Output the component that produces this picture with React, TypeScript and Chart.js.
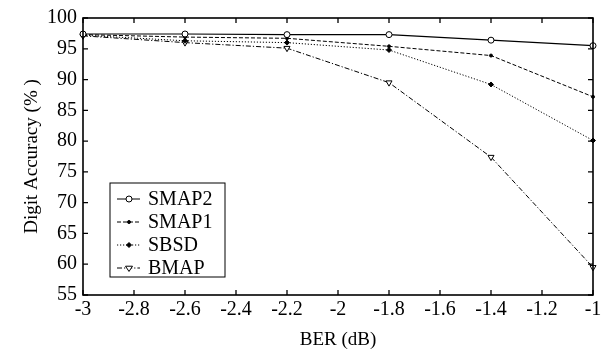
import React, { useEffect, useRef } from "react";
import { Chart, registerables } from "chart.js";

Chart.register(...registerables);

const berValues = [-3, -2.6, -2.2, -1.8, -1.4, -1];
const smap2 = [97.4, 97.4, 97.3, 97.3, 96.4, 95.5];
const smap1 = [97.3, 96.9, 96.7, 95.4, 93.9, 87.2];
const sbsd = [97.2, 96.3, 96.0, 94.8, 89.2, 80.1];
const bmap = [97.1, 96.0, 95.1, 89.5, 77.4, 59.5];
const seriesLabels = ["SMAP2", "SMAP1", "SBSD", "BMAP"];
const yTickMin = 55;
const yTickMax = 100;
const yStep = 5;
const xTickMin = -3;
const xTickMax = -1;
const xStep = 0.2;

const FONT = "'Liberation Serif', 'Times New Roman', serif";

function drawMarker(ctx: CanvasRenderingContext2D, style: string, x: number, y: number, r: number, fill: string, rot: number) {
  ctx.save();
  ctx.translate(x, y);
  ctx.rotate((rot * Math.PI) / 180);
  ctx.setLineDash([]);
  ctx.lineWidth = 1;
  ctx.strokeStyle = "#000";
  ctx.fillStyle = fill;
  ctx.beginPath();
  if (style === "circle") {
    ctx.arc(0, 0, r, 0, Math.PI * 2);
  } else if (style === "rectRot") {
    ctx.moveTo(0, -r);
    ctx.lineTo(r, 0);
    ctx.lineTo(0, r);
    ctx.lineTo(-r, 0);
    ctx.closePath();
  } else if (style === "triangle") {
    const h = r * 1.5;
    ctx.moveTo(0, -h * 0.66);
    ctx.lineTo(r, h * 0.34);
    ctx.lineTo(-r, h * 0.34);
    ctx.closePath();
  }
  ctx.fill();
  ctx.stroke();
  ctx.restore();
}

const framePlugin = {
  id: "frame",
  afterDraw(chart: any) {
    const { ctx, chartArea, scales } = chart;
    const { left, right, top, bottom } = chartArea;
    ctx.save();
    ctx.strokeStyle = "#000";
    ctx.lineWidth = 1.6;
    ctx.setLineDash([]);
    ctx.strokeRect(left, top, right - left, bottom - top);
    const tl = 5;
    ctx.lineWidth = 1.3;
    ctx.beginPath();
    scales.x.ticks.forEach((t: any) => {
      const px = scales.x.getPixelForValue(t.value);
      ctx.moveTo(px, bottom);
      ctx.lineTo(px, bottom - tl);
      ctx.moveTo(px, top);
      ctx.lineTo(px, top + tl);
    });
    scales.y.ticks.forEach((t: any) => {
      const py = scales.y.getPixelForValue(t.value);
      ctx.moveTo(left, py);
      ctx.lineTo(left + tl, py);
      ctx.moveTo(right, py);
      ctx.lineTo(right - tl, py);
    });
    ctx.stroke();

    // legend
    const x0 = left + 27;
    const y0 = top + 165;
    const w = 115;
    const h = 94;
    ctx.fillStyle = "#fff";
    ctx.fillRect(x0, y0, w, h);
    ctx.lineWidth = 1;
    ctx.strokeRect(x0, y0, w, h);
    chart.data.datasets.forEach((ds: any, i: number) => {
      const cy = y0 + 16 + i * 23;
      ctx.save();
      ctx.strokeStyle = "#000";
      ctx.lineWidth = 1;
      ctx.setLineDash(ds.borderDash || []);
      ctx.beginPath();
      ctx.moveTo(x0 + 7, cy);
      ctx.lineTo(x0 + 30, cy);
      ctx.stroke();
      ctx.restore();
      drawMarker(ctx, ds.pointStyle, x0 + 19, cy, ds.pointRadius, ds.pointBackgroundColor, ds.pointRotation || 0);
      ctx.fillStyle = "#000";
      ctx.font = `20px ${FONT}`;
      ctx.textAlign = "left";
      ctx.textBaseline = "middle";
      ctx.fillText(ds.label, x0 + 38, cy + 1);
    });
    ctx.restore();
  },
};

export default function App() {
  const ref = useRef<HTMLCanvasElement | null>(null);
  useEffect(() => {
    if (!ref.current) return;
    Chart.defaults.font.family = FONT;
    Chart.defaults.color = "#000";
    const mk = (vals: number[]) => berValues.map((x, i) => ({ x, y: vals[i] }));
    const chart = new Chart(ref.current, {
      type: "line",
      data: {
        datasets: [
          {
            label: seriesLabels[0],
            data: mk(smap2),
            borderColor: "#000",
            borderWidth: 1.2,
            borderDash: [],
            pointStyle: "circle",
            pointRadius: 3,
            pointBackgroundColor: "#fff",
            pointBorderColor: "#000",
            pointBorderWidth: 1,
            clip: false,
          },
          {
            label: seriesLabels[1],
            data: mk(smap1),
            borderColor: "#000",
            borderWidth: 1,
            borderDash: [4, 2],
            pointStyle: "circle",
            pointRadius: 1.5,
            pointBackgroundColor: "#000",
            pointBorderColor: "#000",
            pointBorderWidth: 1,
            clip: false,
          },
          {
            label: seriesLabels[2],
            data: mk(sbsd),
            borderColor: "#000",
            borderWidth: 1,
            borderDash: [1.2, 1.8],
            pointStyle: "rectRot",
            pointRadius: 2.5,
            pointBackgroundColor: "#000",
            pointBorderColor: "#000",
            pointBorderWidth: 1,
            clip: false,
          },
          {
            label: seriesLabels[3],
            data: mk(bmap),
            borderColor: "#000",
            borderWidth: 1,
            borderDash: [5, 2, 1.2, 2],
            pointStyle: "triangle",
            pointRotation: 180,
            pointRadius: 3.5,
            pointBackgroundColor: "#fff",
            pointBorderColor: "#000",
            pointBorderWidth: 1,
            clip: false,
          },
        ] as any,
      },
      options: {
        animation: false,
        responsive: false,
        devicePixelRatio: 1,
        layout: { padding: { left: 0, top: 14, right: 12, bottom: 0 } },
        plugins: { legend: { display: false }, tooltip: { enabled: false } },
        elements: { line: { tension: 0 } },
        scales: {
          x: {
            type: "linear",
            min: xTickMin,
            max: xTickMax,
            grid: { display: false, drawTicks: false },
            border: { display: false },
            ticks: {
              stepSize: xStep,
              padding: 3,
              maxRotation: 0,
              autoSkip: false,
              font: { size: 20, family: FONT },
              color: "#000",
              callback: (v: any) => String(Number(Number(v).toFixed(1))),
            },
            title: {
              display: true,
              text: "BER (dB)",
              font: { size: 19, family: FONT },
              color: "#000",
              padding: { top: 0, bottom: 3 },
            },
            afterFit: (s: any) => {
              s.height = 59;
            },
          },
          y: {
            type: "linear",
            min: yTickMin,
            max: yTickMax,
            grid: { display: false, drawTicks: false },
            border: { display: false },
            ticks: {
              stepSize: yStep,
              padding: 6,
              font: { size: 20, family: FONT },
              color: "#000",
            },
            title: {
              display: true,
              text: "Digit Accuracy (% )",
              font: { size: 19, family: FONT },
              color: "#000",
              padding: { top: 21, bottom: 0 },
            },
            afterFit: (s: any) => {
              s.width = 83;
            },
          },
        },
      },
      plugins: [framePlugin],
    });
    return () => chart.destroy();
  }, []);
  return (
    <canvas
      ref={ref}
      width={605}
      height={354}
      style={{ position: "absolute", left: 0, top: 0, width: 605, height: 354, background: "#fff" }}
    />
  );
}
